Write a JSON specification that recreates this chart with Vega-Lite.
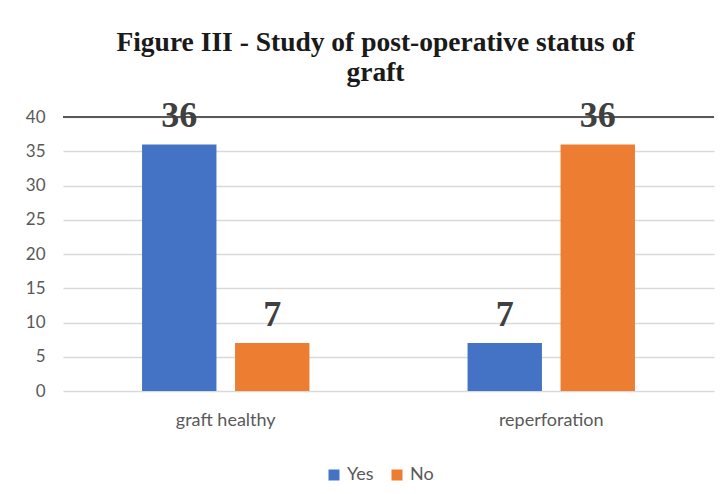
{
  "$schema": "https://vega.github.io/schema/vega-lite/v6.json",
  "width": 651,
  "height": 274,
  "autosize": "none",
  "padding": {"left": 63, "top": 117, "right": 14, "bottom": 103},
  "background": "white",
  "config": {"view": {"stroke": null}},
  "title": {
    "text": ["Figure III - Study of post-operative status of", "graft"],
    "font": "Liberation Serif",
    "fontSize": 27.5,
    "fontWeight": "bold",
    "color": "#1a1a1a",
    "anchor": "middle",
    "frame": "group",
    "dx": -13,
    "lineHeight": 30,
    "offset": 12
  },
  "data": {
    "values": [
      {"status": "graft healthy", "answer": "Yes", "count": 36},
      {"status": "graft healthy", "answer": "No", "count": 7},
      {"status": "reperforation", "answer": "Yes", "count": 7},
      {"status": "reperforation", "answer": "No", "count": 36}
    ]
  },
  "layer": [
    {
      "mark": {"type": "bar"},
      "encoding": {
        "x": {
          "field": "status",
          "type": "nominal",
          "sort": ["graft healthy", "reperforation"],
          "scale": {"paddingInner": 0, "paddingOuter": 0},
          "axis": {
            "title": null,
            "labelAngle": 0,
            "domain": false,
            "ticks": false,
            "labelPadding": 20,
            "labelFont": "Lato",
            "labelFontSize": 18,
            "labelColor": "#595959"
          }
        },
        "xOffset": {
          "field": "answer",
          "type": "nominal",
          "sort": ["Yes", "No"],
          "scale": {"paddingInner": 0.2, "paddingOuter": 0.85}
        },
        "y": {
          "field": "count",
          "type": "quantitative",
          "scale": {"domain": [0, 40], "nice": false},
          "axis": {
            "title": null,
            "values": [0, 5, 10, 15, 20, 25, 30, 35, 40],
            "domain": false,
            "ticks": false,
            "grid": true,
            "gridColor": "#d9d9d9",
            "gridWidth": 1.5,
            "labelPadding": 18,
            "labelFont": "Lato",
            "labelFontSize": 17,
            "labelColor": "#595959"
          }
        },
        "color": {
          "field": "answer",
          "type": "nominal",
          "sort": ["Yes", "No"],
          "scale": {"domain": ["Yes", "No"], "range": ["#4472c4", "#ed7d31"]},
          "legend": {
            "title": null,
            "orient": "none",
            "direction": "horizontal",
            "legendX": 262,
            "legendY": 349,
            "symbolType": "square",
            "symbolSize": 121,
            "symbolStrokeWidth": 0,
            "symbolOpacity": 1,
            "labelFont": "Lato",
            "labelFontSize": 18,
            "labelColor": "#595959",
            "labelOffset": 4,
            "columnPadding": 14
          }
        }
      }
    },
    {
      "mark": {"type": "rule", "color": "#595959", "strokeWidth": 2},
      "encoding": {
        "y": {
          "datum": 40,
          "type": "quantitative",
          "axis": {
            "title": null,
            "values": [0, 5, 10, 15, 20, 25, 30, 35, 40],
            "domain": false,
            "ticks": false,
            "grid": true,
            "gridColor": "#d9d9d9",
            "gridWidth": 1.5,
            "labelPadding": 18,
            "labelFont": "Lato",
            "labelFontSize": 17,
            "labelColor": "#595959"
          }
        }
      }
    },
    {
      "mark": {
        "type": "text",
        "font": "Liberation Serif",
        "fontSize": 36,
        "fontWeight": "bold",
        "color": "#404040",
        "baseline": "alphabetic",
        "dy": -17
      },
      "encoding": {
        "x": {
          "field": "status",
          "type": "nominal",
          "sort": ["graft healthy", "reperforation"]
        },
        "xOffset": {
          "field": "answer",
          "type": "nominal",
          "sort": ["Yes", "No"]
        },
        "y": {
          "field": "count",
          "type": "quantitative",
          "axis": {
            "title": null,
            "values": [0, 5, 10, 15, 20, 25, 30, 35, 40],
            "domain": false,
            "ticks": false,
            "grid": true,
            "gridColor": "#d9d9d9",
            "gridWidth": 1.5,
            "labelPadding": 18,
            "labelFont": "Lato",
            "labelFontSize": 17,
            "labelColor": "#595959"
          }
        },
        "text": {"field": "count", "type": "quantitative"}
      }
    }
  ]
}
